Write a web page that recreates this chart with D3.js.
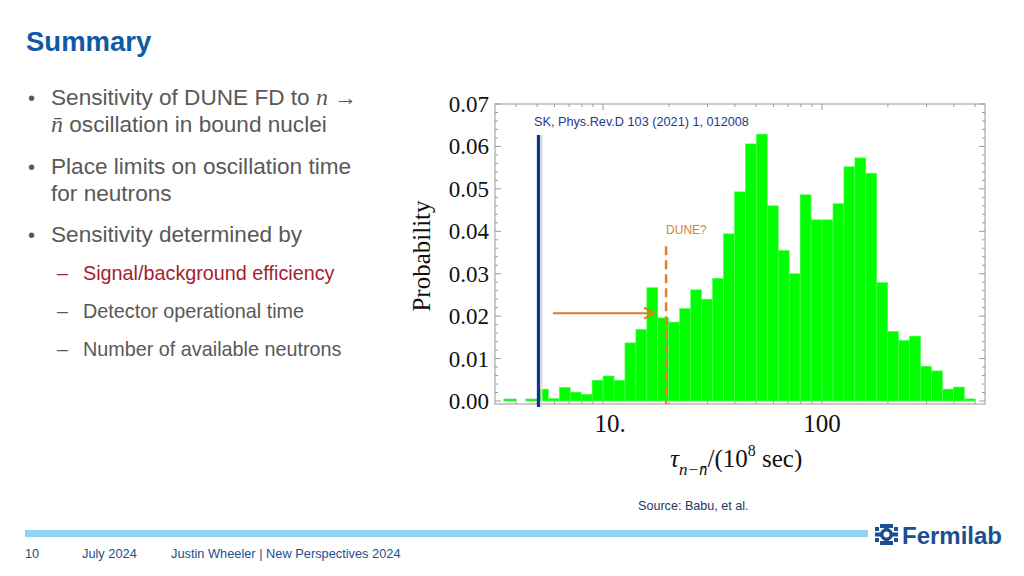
<!DOCTYPE html>
<html>
<head>
<meta charset="utf-8">
<script src="https://cdn.jsdelivr.net/npm/d3@7"></script>
<style>
  html, body { margin: 0; padding: 0; background: #fff; }
  svg { display: block; }
</style>
</head>
<body>
<div id="slide"></div>
<script>
// histogram bins: lower edge in log10(tau / 1e8 s), bin width 0.05 decade
var binLow = [0.70, 0.75, 0.80, 0.85, 0.90, 0.95, 1.00, 1.05, 1.10, 1.15,
              1.20, 1.25, 1.30, 1.35, 1.40, 1.45, 1.50, 1.55, 1.60, 1.65,
              1.70, 1.75, 1.80, 1.85, 1.90, 1.95, 2.00, 2.05, 2.10, 2.15,
              2.20, 2.25, 2.30, 2.35, 2.40, 2.45, 2.50, 2.55, 2.60, 2.65];
var binProb = [0.0028, 0.0006, 0.0032, 0.0021, 0.0016, 0.0049, 0.0059, 0.0049, 0.0137, 0.0169,
               0.0267, 0.0196, 0.0186, 0.0218, 0.0262, 0.0240, 0.0289, 0.0394, 0.0493, 0.0606,
               0.0629, 0.0460, 0.0355, 0.0300, 0.0486, 0.0427, 0.0427, 0.0465, 0.0552, 0.0573,
               0.0537, 0.0279, 0.0164, 0.0143, 0.0153, 0.0082, 0.0071, 0.0028, 0.0033, 0.0005];
var emptyBins = [0.55, 0.65];
var binWidth = 0.05;

var yTicks = [0.00, 0.01, 0.02, 0.03, 0.04, 0.05, 0.06, 0.07];
var xTickLabels = [{v: 10, t: "10."}, {v: 100, t: "100"}];
var xMinor = [4, 5, 6, 7, 8, 9, 20, 30, 40, 50, 60, 70, 80, 90, 200, 300, 400, 500];

var skLimit = 5.07;       // SK line
var skTop = 0.0627;
var duneLimit = 19.4;     // DUNE? dashed line
var duneTop = 0.0365;
var arrowFrom = 5.9, arrowTo = 17.1, arrowProb = 0.0207;

var bullets = [
  {lines: ["Sensitivity of DUNE FD to |n| →", "|n̄| oscillation in bound nuclei"], y: 105},
  {lines: ["Place limits on oscillation time", "for neutrons"], y: 174},
  {lines: ["Sensitivity determined by"], y: 242}
];
var subBullets = [
  {t: "Signal/background efficiency", y: 280, c: "#a51c30"},
  {t: "Detector operational time", y: 318, c: "#595959"},
  {t: "Number of available neutrons", y: 356, c: "#595959"}
];
var footer = [{t: "10", x: 25}, {t: "July 2024", x: 82}, {t: "Justin Wheeler | New Perspectives 2024", x: 171}];

var W = 1024, H = 576;
var svg = d3.select("#slide").append("svg").attr("width", W).attr("height", H);

var sans = "'Liberation Sans', Arial, sans-serif";
var serif = "'Liberation Serif', 'Times New Roman', serif";

// ---- slide text ----
svg.append("text").attr("x", 26).attr("y", 51)
  .attr("font-family", sans).attr("font-weight", "bold").attr("font-size", 27.5)
  .attr("fill", "#1159a6").text("Summary");

bullets.forEach(function(b) {
  svg.append("text").attr("x", 28).attr("y", b.y).attr("font-family", sans)
    .attr("font-size", 20).attr("fill", "#595959").text("•");
  b.lines.forEach(function(line, i) {
    var t = svg.append("text").attr("x", 51).attr("y", b.y + i * 26.5)
      .attr("font-family", sans).attr("font-size", 22.6).attr("fill", "#595959");
    line.split("|").forEach(function(part, j) {
      var s = t.append("tspan").text(part);
      if (j % 2 == 1) s.attr("font-family", serif).attr("font-style", "italic").attr("font-size", 24);
    });
  });
});

subBullets.forEach(function(s) {
  svg.append("text").attr("x", 57).attr("y", s.y).attr("font-family", sans)
    .attr("font-size", 19.8).attr("fill", s.c).text("–");
  svg.append("text").attr("x", 83).attr("y", s.y).attr("font-family", sans)
    .attr("font-size", 19.8).attr("fill", s.c).text(s.t);
});

// footer
svg.append("rect").attr("x", 25).attr("y", 530).attr("width", 843).attr("height", 7).attr("fill", "#92d4ee");
footer.forEach(function(f) {
  svg.append("text").attr("x", f.x).attr("y", 558).attr("font-family", sans)
    .attr("font-size", 12.8).attr("fill", "#1f4e8c").text(f.t);
});

// Fermilab mark
var logo = svg.append("g").attr("transform", "translate(875,524)").attr("fill", "#1d4e91");
logo.append("rect").attr("x", 5).attr("y", 0).attr("width", 13).attr("height", 4);
logo.append("rect").attr("x", 5).attr("y", 17).attr("width", 13).attr("height", 4);
logo.append("rect").attr("x", 0).attr("y", 8.5).attr("width", 23).attr("height", 4);
logo.append("rect").attr("x", 9.5).attr("y", 0).attr("width", 4).attr("height", 21);
logo.append("circle").attr("cx", 11.5).attr("cy", 10.5).attr("r", 6.5);
logo.append("circle").attr("cx", 11.5).attr("cy", 10.5).attr("r", 3).attr("fill", "#fff");
logo.append("rect").attr("x", 0).attr("y", 3).attr("width", 4).attr("height", 4);
logo.append("rect").attr("x", 19).attr("y", 3).attr("width", 4).attr("height", 4);
logo.append("rect").attr("x", 0).attr("y", 14).attr("width", 4).attr("height", 4);
logo.append("rect").attr("x", 19).attr("y", 14).attr("width", 4).attr("height", 4);
svg.append("text").attr("x", 902).attr("y", 544).attr("font-family", sans).attr("font-weight", "bold")
  .attr("font-size", 24).attr("fill", "#1d4e91").text("Fermilab");

svg.append("text").attr("x", 638).attr("y", 510).attr("font-family", sans)
  .attr("font-size", 12.6).attr("fill", "#1f3864").text("Source: Babu, et al.");

// ---- histogram ----
var fl = 495, fr = 985, ft = 104, fb = 404;
var x = d3.scaleLog().domain([3.21, 555]).range([fl, fr]);
var y = d3.scaleLinear().domain([0, 0.07]).range([401, 104]);
var lin = function(lg) { return Math.pow(10, lg); };

var bins = binLow.map(function(b, i) { return {lo: b, p: binProb[i]}; });

svg.append("g").selectAll("rect").data(bins).enter().append("rect")
  .attr("x", function(d) { return x(lin(d.lo)); })
  .attr("width", function(d) { return x(lin(d.lo + binWidth)) - x(lin(d.lo)); })
  .attr("y", function(d) { return y(d.p); })
  .attr("height", function(d) { return y(0) - y(d.p); })
  .attr("fill", "#00ff00").attr("stroke", "#55ff55").attr("stroke-width", 0.6);

svg.append("g").selectAll("line").data(emptyBins).enter().append("line")
  .attr("x1", function(d) { return x(lin(d)) - 1; })
  .attr("x2", function(d) { return x(lin(d + binWidth)) + 1; })
  .attr("y1", y(0) - 1).attr("y2", y(0) - 1)
  .attr("stroke", "#22ee22").attr("stroke-width", 2.5);

// frame with inward ticks
var frame = svg.append("g").attr("stroke", "#9a9a9a").attr("stroke-width", 1).attr("fill", "none");
frame.append("rect").attr("x", fl).attr("y", ft).attr("width", fr - fl).attr("height", fb - ft);

var yMinor = d3.range(0, 0.0701, 0.002);
frame.selectAll(".ym").data(yMinor).enter().append("path")
  .attr("d", function(d) {
    var major = Math.abs(Math.round(d * 100) - d * 100) < 1e-6;
    var len = major ? 6 : 3;
    return "M" + fl + "," + y(d) + "h" + len + "M" + fr + "," + y(d) + "h" + (-len);
  });
var xAll = xMinor.map(function(v) { return {v: v, major: false}; })
  .concat(xTickLabels.map(function(d) { return {v: d.v, major: true}; }));
frame.selectAll(".xm").data(xAll).enter().append("path")
  .attr("d", function(d) {
    var len = d.major ? 6 : 3;
    return "M" + x(d.v) + "," + fb + "v" + (-len) + "M" + x(d.v) + "," + ft + "v" + len;
  });

svg.append("g").selectAll("text").data(yTicks).enter().append("text")
  .attr("x", 489).attr("y", function(d) { return y(d); }).attr("dy", "0.35em")
  .attr("text-anchor", "end").attr("font-family", serif).attr("font-size", 23)
  .attr("fill", "#111").text(function(d) { return d.toFixed(2); });

svg.append("g").selectAll("text").data(xTickLabels).enter().append("text")
  .attr("x", function(d) { return x(d.v) + (d.t == "10." ? 7 : 0); }).attr("y", 432)
  .attr("text-anchor", "middle").attr("font-family", serif).attr("font-size", 25)
  .attr("fill", "#111").text(function(d) { return d.t; });

svg.append("text").attr("transform", "translate(430,256) rotate(-90)")
  .attr("text-anchor", "middle").attr("font-family", serif).attr("font-size", 25)
  .attr("fill", "#111").text("Probability");

var xt = svg.append("text").attr("x", 670).attr("y", 467).attr("font-family", serif)
  .attr("font-size", 25).attr("fill", "#111");
xt.append("tspan").attr("font-style", "italic").text("τ");
xt.append("tspan").attr("font-style", "italic").attr("font-size", 17).attr("dy", 8).text("n−n\u0304");
xt.append("tspan").attr("dy", -8).text("/(10");
xt.append("tspan").attr("font-size", 16).attr("dy", -11).text("8");
xt.append("tspan").attr("dy", 11).text(" sec)");

// SK line
svg.append("line").attr("x1", x(skLimit) + 3).attr("x2", x(skLimit) + 3)
  .attr("y1", y(skTop)).attr("y2", fb + 3).attr("stroke", "#d8d8d8").attr("stroke-width", 2);
svg.append("line").attr("x1", x(skLimit)).attr("x2", x(skLimit))
  .attr("y1", y(skTop)).attr("y2", fb + 3).attr("stroke", "#0d3889").attr("stroke-width", 3.2);
svg.append("text").attr("x", 534).attr("y", 126).attr("font-family", sans).attr("font-size", 12.7)
  .attr("fill", "#23398c").text("SK, Phys.Rev.D 103 (2021) 1, 012008");

// DUNE line
svg.append("line").attr("x1", x(duneLimit)).attr("x2", x(duneLimit))
  .attr("y1", y(duneTop)).attr("y2", fb).attr("stroke", "#d9822b").attr("stroke-width", 2.5)
  .attr("stroke-dasharray", "9,5");
svg.append("text").attr("x", x(duneLimit)).attr("y", 234).attr("font-family", sans).attr("font-size", 12)
  .attr("fill", "#d9822b").text("DUNE?");

// arrow
var ay = y(arrowProb), ax2 = x(arrowTo);
svg.append("line").attr("x1", x(arrowFrom)).attr("x2", ax2).attr("y1", ay).attr("y2", ay)
  .attr("stroke", "#e07a22").attr("stroke-width", 2);
svg.append("path").attr("d", "M" + (ax2 - 10) + "," + (ay - 5.5) + "L" + ax2 + "," + ay + "L" + (ax2 - 10) + "," + (ay + 5.5))
  .attr("fill", "none").attr("stroke", "#e07a22").attr("stroke-width", 2);
</script>
</body>
</html>
